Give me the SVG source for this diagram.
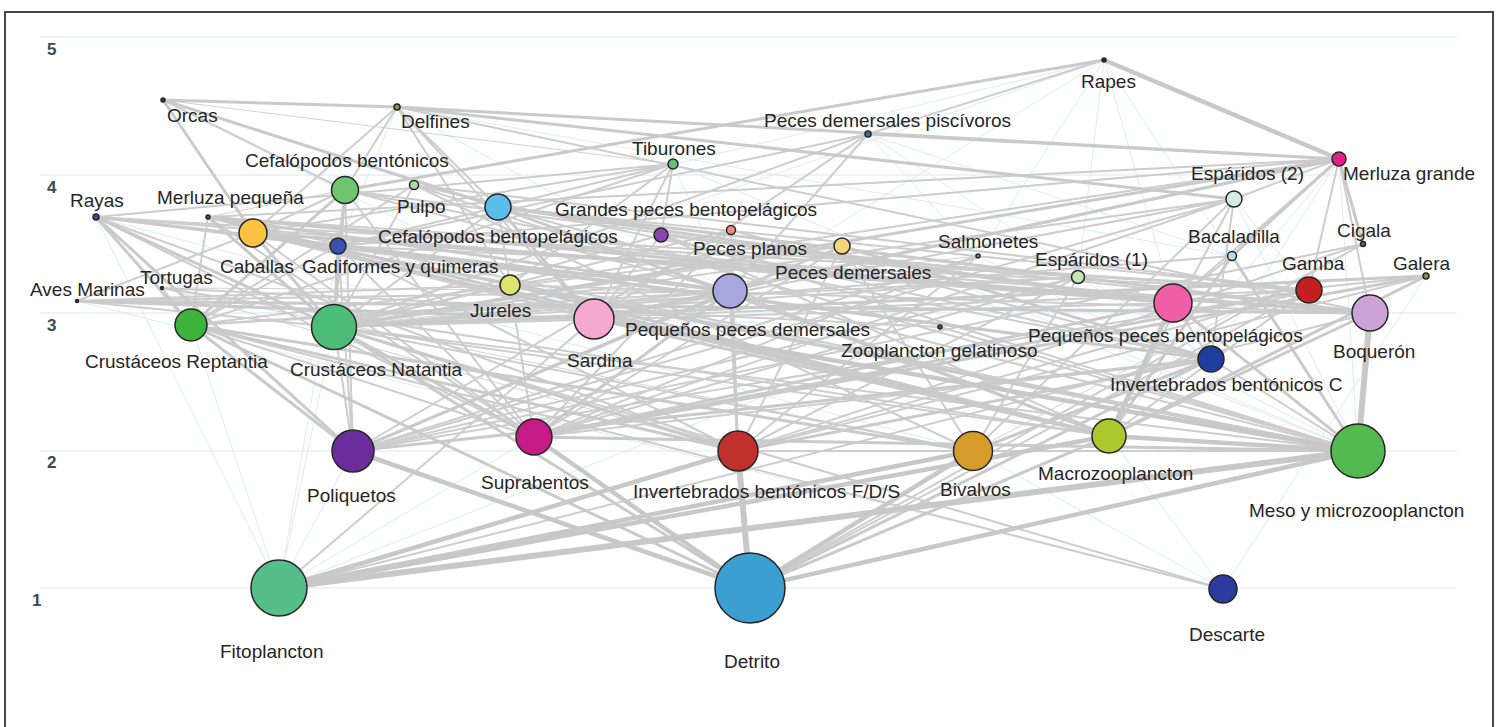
<svg xmlns="http://www.w3.org/2000/svg" width="1498" height="727" viewBox="0 0 1498 727">
<style>
.frame{fill:#fff;stroke:#333;stroke-width:1.8}
.grid{stroke:#e6f0f6;stroke-width:1.5}
.ax{font-family:"Liberation Sans",Arial,sans-serif;font-size:17px;font-weight:bold;fill:#3b4a55}
.lbl{font-family:"Liberation Sans",Arial,sans-serif;font-size:19px;fill:#262626}
.n{stroke:#262626;stroke-width:1.5}
#connectors path{fill:none;stroke-linecap:round}
.t path{stroke:#d3e6f0;stroke-width:0.8}
.w1 path{stroke:#d2d2d2;stroke-width:1}
.w2 path{stroke:#cdcdcd;stroke-width:2}
.w3 path{stroke:#cacaca;stroke-width:3}
.w4 path{stroke:#c8c8c8;stroke-width:4.5}
.w5 path{stroke:#c8c8c8;stroke-width:6}
</style>
<rect class="frame" x="5" y="12" width="1488" height="740"/>
<g id="grid">
<line class="grid" x1="40" y1="37" x2="1457" y2="37"/>
<line class="grid" x1="40" y1="175" x2="1457" y2="175"/>
<line class="grid" x1="40" y1="313" x2="1457" y2="313"/>
<line class="grid" x1="40" y1="451" x2="1457" y2="451"/>
<line class="grid" x1="40" y1="588" x2="1457" y2="588"/>
<text class="ax" x="47" y="55">5</text>
<text class="ax" x="47" y="193">4</text>
<text class="ax" x="47" y="331">3</text>
<text class="ax" x="47" y="468">2</text>
<text class="ax" x="32" y="606">1</text>
</g>
<g id="connectors">
<g class="t">
<path d="M279 588L353 451M279 588L534 437M279 588L334 327M279 588L191 325M279 588L338 246M279 588L96 217M279 588L940 327"/>
<path d="M1104 60L338 246M1104 60L1232 256M1104 60L1173 303M1104 60L1078 277M1104 60L334 327M1104 60L978 256M1104 60L730 291"/>
<path d="M673 164L1358 451M673 164L730 291M163 100L594 319M1426 276L1223 589M1109 436L1223 589M973 451L1223 589"/>
<path d="M868 134L1211 359M868 134L1232 256M868 134L978 256M397 107L730 291M397 107L1232 256M397 107L338 246"/>
<path d="M1339 159L1211 359M1339 159L1109 436M1339 159L1358 451M1234 199L1358 451M1234 199L1309 290M594 319L940 327"/>
<path d="M1078 277L1358 451M978 256L1358 451M842 246L1358 451M338 246L1358 451M208 217L1109 436M96 217L973 451M77 301L1223 589"/>
</g>
<g class="w1">
<path d="M163 100L673 164M345 190L208 217M96 217L1078 277M162 288L738 451M162 288L973 451M162 288L730 291M1363 244L973 451M978 256L334 327"/>
</g>
<g class="w2">
<path d="M163 100L345 190M397 107L253 233M397 107L498 207M397 107L594 319M397 107L1370 313M397 107L510 285M397 107L345 190"/>
<path d="M1104 60L868 134M868 134L338 246M868 134L730 291M868 134L334 327M868 134L594 319"/>
<path d="M673 164L498 207M673 164L253 233M673 164L594 319M673 164L96 217M673 164L661 235M673 164L191 325M673 164L510 285"/>
<path d="M1339 159L1309 290M1339 159L1370 313M1339 159L730 291M1339 159L1173 303M1339 159L1234 199M1339 159L338 246M1339 159L208 217M1339 159L510 285"/>
<path d="M345 190L338 246M345 190L353 451M345 190L730 291M345 190L1173 303M345 190L1211 359M345 190L534 437M345 190L253 233"/>
<path d="M414 185L191 325M414 185L334 327M414 185L1211 359M414 185L973 451M414 185L730 291M414 185L1309 290"/>
<path d="M498 207L510 285M498 207L334 327M498 207L1309 290M498 207L1358 451M498 207L338 246"/>
<path d="M96 217L534 437M96 217L1211 359M96 217L738 451M96 217L1309 290M96 217L1173 303"/>
<path d="M208 217L191 325M208 217L534 437M208 217L594 319M208 217L1370 313M208 217L1309 290M208 217L1358 451"/>
<path d="M253 233L594 319M253 233L534 437M253 233L1173 303M253 233L510 285"/>
<path d="M338 246L191 325M338 246L353 451M338 246L738 451M338 246L534 437M338 246L1309 290"/>
<path d="M661 235L594 319M661 235L1370 313M661 235L1173 303M661 235L1109 436M661 235L334 327M661 235L1358 451"/>
<path d="M731 230L353 451M731 230L738 451M731 230L334 327M731 230L534 437M731 230L1211 359"/>
<path d="M842 246L353 451M842 246L191 325M842 246L334 327M842 246L738 451M842 246L973 451M842 246L534 437M842 246L730 291"/>
<path d="M978 256L353 451M978 256L738 451M978 256L534 437"/>
<path d="M1234 199L1211 359M1234 199L973 451M1234 199L353 451M1234 199L534 437M1234 199L334 327M1234 199L594 319M1234 199L1109 436"/>
<path d="M1232 256L1173 303M1232 256L334 327M1363 244L353 451M1363 244L738 451M1363 244L750 588"/>
<path d="M1078 277L353 451M1078 277L738 451M1078 277L191 325M1078 277L973 451M1078 277L534 437M1078 277L334 327"/>
<path d="M1309 290L738 451M1309 290L353 451M1309 290L334 327M1309 290L1109 436M1309 290L750 588"/>
<path d="M1426 276L738 451M1426 276L1173 303"/>
<path d="M162 288L191 325M162 288L1109 436M162 288L940 327"/>
<path d="M77 301L334 327M77 301L253 233M77 301L510 285M77 301L730 291"/>
<path d="M510 285L534 437M510 285L334 327M510 285L1370 313"/>
<path d="M730 291L334 327M730 291L1109 436M730 291L1358 451M730 291L191 325"/>
<path d="M191 325L534 437M191 325L1223 589"/>
<path d="M334 327L353 451M334 327L1358 451M334 327L973 451M334 327L1223 589M334 327L1109 436"/>
<path d="M594 319L279 588M940 327L1358 451M1173 303L334 327M1173 303L1211 359M1370 313L279 588M1211 359L534 437M1211 359L1358 451M738 451L1358 451"/>
</g>
<g class="w3">
<path d="M163 100L397 107M163 100L253 233M163 100L498 207M397 107L1339 159M397 107L1234 199M1104 60L345 190M868 134L1339 159"/>
<path d="M1339 159L1232 256M1339 159L1363 244M1339 159L594 319M1339 159L334 327M345 190L334 327M345 190L191 325"/>
<path d="M498 207L1173 303M498 207L594 319M498 207L1370 313M498 207L1109 436"/>
<path d="M96 217L191 325M96 217L334 327M96 217L353 451M96 217L730 291"/>
<path d="M208 217L334 327M208 217L730 291M208 217L1173 303M208 217L1109 436"/>
<path d="M253 233L334 327M253 233L1370 313M253 233L1109 436M253 233L1358 451"/>
<path d="M338 246L334 327M338 246L730 291M338 246L1211 359M842 246L1211 359"/>
<path d="M1232 256L1109 436M1232 256L1358 451M1309 290L534 437M1426 276L534 437M1426 276L334 327M1426 276L1109 436"/>
<path d="M77 301L594 319M77 301L1370 313M510 285L1109 436M510 285L1358 451"/>
<path d="M730 291L353 451M730 291L534 437M730 291L738 451"/>
<path d="M191 325L353 451M191 325L738 451M191 325L973 451M191 325L750 588"/>
<path d="M334 327L534 437M334 327L738 451M334 327L750 588M594 319L1109 436"/>
<path d="M1173 303L534 437M1173 303L1358 451M1370 313L1109 436"/>
<path d="M1211 359L353 451M1211 359L738 451M1211 359L973 451M1211 359L750 588M534 437L1358 451M1109 436L750 588"/>
</g>
<g class="w4">
<path d="M1104 60L1339 159M594 319L1358 451M1173 303L1109 436M353 451L750 588M534 437L750 588M973 451L750 588"/>
<path d="M738 451L279 588M973 451L279 588M1109 436L1358 451M1109 436L279 588M1358 451L750 588"/>
</g>
<g class="w5">
<path d="M1370 313L1358 451M738 451L750 588M1358 451L279 588"/>
</g>
</g>
<g id="n-rapes"><circle class="n" cx="1104" cy="60" r="2" fill="#1e2b4a"/><text class="lbl" x="1081" y="88">Rapes</text></g>
<g id="n-orcas"><circle class="n" cx="163" cy="100" r="2" fill="#4a3a2a"/><text class="lbl" x="167" y="122">Orcas</text></g>
<g id="n-delfines"><circle class="n" cx="397" cy="107" r="3" fill="#8a9a3a"/><text class="lbl" x="401" y="128">Delfines</text></g>
<g id="n-pdp"><circle class="n" cx="868" cy="134" r="3" fill="#3a6e9a"/><text class="lbl" x="764" y="127">Peces demersales piscívoros</text></g>
<g id="n-tiburones"><circle class="n" cx="673" cy="164" r="5" fill="#6dbb78"/><text class="lbl" x="632" y="155">Tiburones</text></g>
<g id="n-merluza-grande"><circle class="n" cx="1339" cy="159" r="7" fill="#e0208a"/><text class="lbl" x="1343" y="180">Merluza grande</text></g>
<g id="n-cef-bent"><circle class="n" cx="345" cy="190" r="13.5" fill="#6ec46f"/><text class="lbl" x="245" y="167">Cefalópodos bentónicos</text></g>
<g id="n-pulpo"><circle class="n" cx="414" cy="185" r="4.5" fill="#a8dca2"/><text class="lbl" x="397" y="213">Pulpo</text></g>
<g id="n-cef-bentopel"><circle class="n" cx="498" cy="207" r="13" fill="#5bbde9"/><text class="lbl" x="378" y="243">Cefalópodos bentopelágicos</text></g>
<g id="n-rayas"><circle class="n" cx="96" cy="217" r="3" fill="#5a3a9a"/><text class="lbl" x="70" y="207">Rayas</text></g>
<g id="n-merluza-peq"><circle class="n" cx="208" cy="217" r="2" fill="#8a3a3a"/><text class="lbl" x="157" y="204">Merluza pequeña</text></g>
<g id="n-caballas"><circle class="n" cx="253" cy="233" r="14" fill="#fbc341"/><text class="lbl" x="220" y="273">Caballas</text></g>
<g id="n-gadiformes"><circle class="n" cx="338" cy="246" r="8" fill="#3b50b0"/><text class="lbl" x="302" y="273">Gadiformes y quimeras</text></g>
<g id="n-grandes-pb"><circle class="n" cx="661" cy="235" r="7" fill="#8e44ad"/><text class="lbl" x="555" y="216">Grandes peces bentopelágicos</text></g>
<g id="n-peces-planos"><circle class="n" cx="731" cy="230" r="4.5" fill="#f28a86"/><text class="lbl" x="693" y="255">Peces planos</text></g>
<g id="n-peces-demersales"><circle class="n" cx="842" cy="246" r="8" fill="#f7d57a"/><text class="lbl" x="775" y="279">Peces demersales</text></g>
<g id="n-salmonetes"><circle class="n" cx="978" cy="256" r="2" fill="#8a8a3a"/><text class="lbl" x="938" y="248">Salmonetes</text></g>
<g id="n-esparidos2"><circle class="n" cx="1234" cy="199" r="8" fill="#d3ecdf"/><text class="lbl" x="1191" y="180">Espáridos (2)</text></g>
<g id="n-bacaladilla"><circle class="n" cx="1232" cy="256" r="4.5" fill="#b5dced"/><text class="lbl" x="1188" y="243">Bacaladilla</text></g>
<g id="n-cigala"><circle class="n" cx="1363" cy="244" r="2.5" fill="#9a5a2a"/><text class="lbl" x="1337" y="237">Cigala</text></g>
<g id="n-esparidos1"><circle class="n" cx="1078" cy="277" r="6.5" fill="#c4e8b0"/><text class="lbl" x="1035" y="266">Espáridos (1)</text></g>
<g id="n-gamba"><circle class="n" cx="1309" cy="290" r="13" fill="#c51e1e"/><text class="lbl" x="1282" y="270">Gamba</text></g>
<g id="n-galera"><circle class="n" cx="1426" cy="276" r="3" fill="#7a9a3a"/><text class="lbl" x="1393" y="270">Galera</text></g>
<g id="n-tortugas"><circle class="n" cx="162" cy="288" r="1.5" fill="#444"/><text class="lbl" x="140" y="284">Tortugas</text></g>
<g id="n-aves"><circle class="n" cx="77" cy="301" r="1.5" fill="#444"/><text class="lbl" x="30" y="296">Aves Marinas</text></g>
<g id="n-jureles"><circle class="n" cx="510" cy="285" r="10" fill="#dde36e"/><text class="lbl" x="470" y="317">Jureles</text></g>
<g id="n-ppd"><circle class="n" cx="730" cy="291" r="17" fill="#a5a7de"/><text class="lbl" x="625" y="336">Pequeños peces demersales</text></g>
<g id="n-crust-rept"><circle class="n" cx="191" cy="325" r="16" fill="#3cb43c"/><text class="lbl" x="85" y="368">Crustáceos Reptantia</text></g>
<g id="n-crust-nat"><circle class="n" cx="334" cy="327" r="22.5" fill="#4cbc78"/><text class="lbl" x="290" y="376">Crustáceos Natantia</text></g>
<g id="n-sardina"><circle class="n" cx="594" cy="319" r="20" fill="#f5a8d0"/><text class="lbl" x="567" y="367">Sardina</text></g>
<g id="n-zoo-gel"><circle class="n" cx="940" cy="327" r="2" fill="#2a5a9a"/><text class="lbl" x="841" y="357">Zooplancton gelatinoso</text></g>
<g id="n-ppb"><circle class="n" cx="1173" cy="303" r="19" fill="#ee5fa8"/><text class="lbl" x="1028" y="342">Pequeños peces bentopelágicos</text></g>
<g id="n-boqueron"><circle class="n" cx="1370" cy="313" r="18" fill="#cba3d8"/><text class="lbl" x="1333" y="358">Boquerón</text></g>
<g id="n-ibc"><circle class="n" cx="1211" cy="359" r="13" fill="#1f3e9f"/><text class="lbl" x="1110" y="391">Invertebrados bentónicos C</text></g>
<g id="n-poliquetos"><circle class="n" cx="353" cy="451" r="21" fill="#6c2d9c"/><text class="lbl" x="307" y="502">Poliquetos</text></g>
<g id="n-suprabentos"><circle class="n" cx="534" cy="437" r="18" fill="#c41b86"/><text class="lbl" x="481" y="489">Suprabentos</text></g>
<g id="n-ifd"><circle class="n" cx="738" cy="451" r="20" fill="#c0302c"/><text class="lbl" x="633" y="498">Invertebrados bentónicos F/D/S</text></g>
<g id="n-bivalvos"><circle class="n" cx="973" cy="451" r="19.5" fill="#d59b2b"/><text class="lbl" x="940" y="496">Bivalvos</text></g>
<g id="n-macrozoo"><circle class="n" cx="1109" cy="436" r="17" fill="#a9c92f"/><text class="lbl" x="1038" y="480">Macrozooplancton</text></g>
<g id="n-mesozoo"><circle class="n" cx="1358" cy="451" r="27" fill="#54b94f"/><text class="lbl" x="1249" y="517">Meso y microzooplancton</text></g>
<g id="n-fito"><circle class="n" cx="279" cy="588" r="28" fill="#55be8a"/><text class="lbl" x="220" y="658">Fitoplancton</text></g>
<g id="n-detrito"><circle class="n" cx="750" cy="588" r="35" fill="#3b9fd1"/><text class="lbl" x="724" y="668">Detrito</text></g>
<g id="n-descarte"><circle class="n" cx="1223" cy="589" r="14" fill="#2c3b9e"/><text class="lbl" x="1189" y="641">Descarte</text></g>
</svg>
